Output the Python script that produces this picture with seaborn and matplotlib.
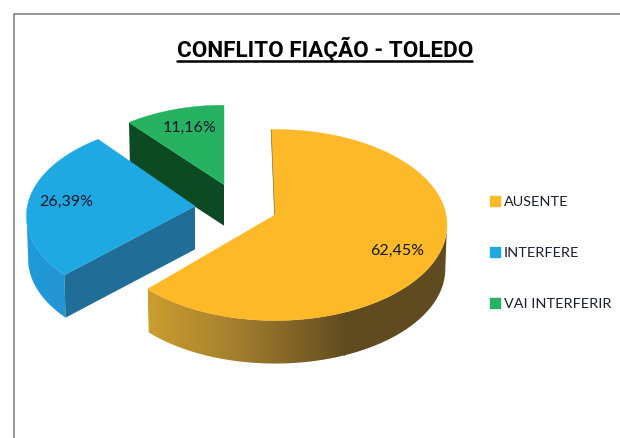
"""3D exploded pie: CONFLITO FIAÇÃO - TOLEDO."""
import matplotlib

matplotlib.use("Agg")

import matplotlib.pyplot as plt
import numpy as np
import seaborn as sns
from matplotlib.colors import LinearSegmentedColormap
from matplotlib.patches import Patch, Polygon

categories = ["AUSENTE", "INTERFERE", "VAI INTERFERIR"]
shares = [62.45, 26.39, 11.16]

top_colors = ["#FDB927", "#1FA9E2", "#27B261"]
inner_wall_colors = ["#5F4A1E", "#206D98", "#0B4A23"]
rim_stops = [
    [(0.0, "#CC9E2E"), (0.45, "#A37E2E"), (0.85, "#755A24"), (1.0, "#604A1F")],
    [(0.0, "#1F9BDA"), (1.0, "#2495D2")],
    [(0.0, "#1E8A4C"), (1.0, "#1E8A4C")],
]

# slice centre on the page (pixels), size and small turn per slice
centres = [(275, 225), (195, 216), (224, 194)]
scales = [1.0, 0.98, 0.93]
rotations = [-1.3, 1.5, 0.0]

A, B = 172, 95.5   # ellipse half axes
TILT = 0.105       # how far the pie apex sits behind the ellipse centre
DEPTH = 44


def project(theta, radius, centre, scale, rim=1.0, drop=0.0):
    # clockwise degrees from 12 o'clock -> page pixels, with perspective
    t = np.radians(theta)
    u, v = radius * np.sin(t), radius * np.cos(t)
    den = 1 + TILT * v
    uu = u * np.sqrt(1 - TILT**2) / den
    vv = (v + TILT) / den
    x = centre[0] + A * scale * rim * uu
    y = centre[1] - B * scale * rim * vv + drop
    return x, y


sns.set_theme(style="white")
plt.rcParams["font.family"] = ["Lato", "DejaVu Sans"]
palette = sns.color_palette(top_colors)

fig = plt.figure(figsize=(6.2, 4.38), dpi=100)
ax = fig.add_axes([0, 0, 1, 1])
ax.set_xlim(0, 620)
ax.set_ylim(438, 0)
ax.axis("off")

# chart frame, open on the right and bottom
ax.plot([13.5, 13.5, 620], [438, 13.5, 13.5], color="#8E8E8E", lw=1.3)

bounds = np.cumsum([0] + shares) * 3.6
order = [2, 1, 0]  # back slices first
for i in order:
    th1, th2 = bounds[i] + rotations[i], bounds[i + 1] + rotations[i]
    c, s = centres[i], scales[i]
    arc = np.linspace(th1, th2, 200)

    # radial wall that faces the viewer
    if i != 0:
        x0, y0 = project(th1, 0, c, s)
        x1, y1 = project(th1, 1, c, s)
        x2, y2 = project(th1, 1, c, s, rim=0.99, drop=DEPTH * s)
        x3, y3 = project(th1, 0, c, s, rim=0.99, drop=DEPTH * s)
        ax.fill([x0, x1, x2, x3], [y0, y1, y2, y3], color=inner_wall_colors[i], lw=0)

    # outer rim with a left-right gradient
    tx, ty = project(arc, 1, c, s)
    bx, by = project(arc, 1, c, s, rim=0.99, drop=DEPTH * s)
    front = ty >= c[1] - 2
    if front.any() and i != 2:
        pts = np.vstack([np.c_[tx[front], ty[front]], np.c_[bx[front], by[front]][::-1]])
        rim = Polygon(pts, closed=True, transform=ax.transData, fc="none", lw=0)
        ax.add_patch(rim)
        cmap = LinearSegmentedColormap.from_list(f"rim{i}", rim_stops[i])
        grad = np.linspace(0, 1, 256).reshape(1, -1)
        im = ax.imshow(
            grad,
            cmap=cmap,
            aspect="auto",
            extent=[pts[:, 0].min(), pts[:, 0].max() if i else 345, pts[:, 1].max(), pts[:, 1].min()],
            interpolation="bilinear",
        )
        if i == 0:
            # past the gradient the rim stays flat dark brown
            ax.fill(pts[:, 0].clip(344), pts[:, 1], color=rim_stops[0][-1][1], lw=0,
                    zorder=im.get_zorder())
        im.set_clip_path(rim)

    # top face
    fx, fy = project(arc, 1, c, s)
    ox, oy = project(th1, 0, c, s)
    ax.fill(np.r_[ox, fx], np.r_[oy, fy], color=palette[i], lw=0.3, zorder=3)

    if i == 0:
        # thin dark sliver of the wall at 12 o'clock
        x1, y1 = project(th1, 1, c, s)
        ax.plot([x1 + 0.3, ox + 0.3], [y1, oy], color=inner_wall_colors[0], lw=1.4, zorder=2.9,
                solid_capstyle="butt")

ax.set_xlim(0, 620)
ax.set_ylim(438, 0)

# value labels
label_pos = [(397, 251), (66, 202), (190, 128)]
for share, (lx, ly) in zip(shares, label_pos):
    ax.text(lx, ly, f"{share:.2f}%".replace(".", ","), ha="center", va="center",
            fontsize=11.5, color="#10182A", zorder=5)

# title, underline drawn by hand
ax.text(325, 49, "CONFLITO FIAÇÃO - TOLEDO", ha="center", va="center", fontsize=16.2,
        fontweight="bold", family=["Roboto", "DejaVu Sans"], color="black")
ax.plot([177, 472], [60.5, 60.5], color="black", lw=1.8)

handles = [Patch(color=palette[i], label=categories[i]) for i in range(3)]
ax.legend(
    handles=handles,
    loc="center left",
    bbox_to_anchor=(490 / 620, 1 - 253 / 438),
    frameon=False,
    fontsize=10.4,
    labelspacing=2.72,
    handlelength=0.7,
    handleheight=0.7,
    handletextpad=0.25,
    borderpad=0,
    borderaxespad=0,
    labelcolor="#1A2030",
)

fig.savefig("out.png", dpi=100)
plt.close(fig)
